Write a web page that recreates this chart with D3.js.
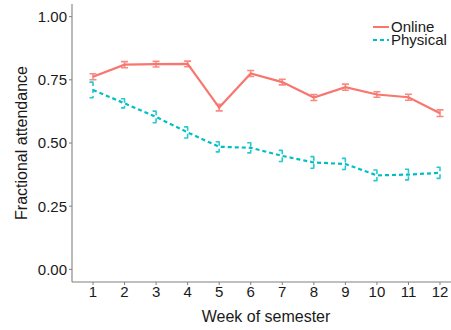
<!DOCTYPE html>
<html><head><meta charset="utf-8">
<script src="https://cdn.jsdelivr.net/npm/d3@7"></script>
<style>body{margin:0;background:#fff}svg{display:block}text{font-family:"Liberation Sans",Arial,sans-serif;fill:#1a1a1a}</style>
</head><body><svg id="c" width="451" height="330"></svg>
<script>
const weeks = [1,2,3,4,5,6,7,8,9,10,11,12];
const onlineMean = [0.762,0.810,0.812,0.813,0.640,0.775,0.741,0.680,0.721,0.692,0.681,0.618];
const onlineErr  = [0.012,0.012,0.011,0.011,0.013,0.012,0.011,0.012,0.012,0.011,0.012,0.013];
const physMean = [0.710,0.657,0.603,0.542,0.485,0.481,0.449,0.423,0.417,0.372,0.375,0.382];
const physErr  = [0.031,0.018,0.023,0.022,0.020,0.020,0.022,0.023,0.022,0.021,0.021,0.022];
const yTicks = [0,0.25,0.5,0.75,1];
const yTickLabels = ["0.00","0.25","0.50","0.75","1.00"];
const seriesNames = ["Online","Physical"];
const colors = ["#F8766D","#00BFC4"];

(function(){
const svg = d3.select("#c");
const pLeft = 72, pRight = 451, pTop = 4, pBottom = 282;
const x = d3.scaleLinear().domain([1,12]).range([93,440]);
const y = d3.scaleLinear().domain([-0.05,1.05]).range([pBottom, pTop]);

svg.append("line").attr("x1",pLeft).attr("x2",pLeft).attr("y1",pTop).attr("y2",pBottom).attr("stroke","#808080").attr("stroke-width",1.1);
svg.append("line").attr("x1",pLeft).attr("x2",pRight).attr("y1",pBottom).attr("y2",pBottom).attr("stroke","#808080").attr("stroke-width",1.1);

yTicks.forEach((t,i)=>{
  svg.append("line").attr("x1",pLeft-3).attr("x2",pLeft).attr("y1",y(t)).attr("y2",y(t)).attr("stroke","#808080");
  svg.append("text").attr("x",pLeft-5).attr("y",y(t)).attr("dy","0.36em").attr("text-anchor","end").attr("font-size",15).text(yTickLabels[i]);
});
weeks.forEach(w=>{
  svg.append("line").attr("x1",x(w)).attr("x2",x(w)).attr("y1",pBottom).attr("y2",pBottom+3).attr("stroke","#808080");
  svg.append("text").attr("x",x(w)).attr("y",297).attr("text-anchor","middle").attr("font-size",15).text(w);
});
svg.append("text").attr("transform","translate(27,143) rotate(-90)").attr("text-anchor","middle").attr("font-size",16).text("Fractional attendance");
svg.append("text").attr("x",266).attr("y",322).attr("text-anchor","middle").attr("font-size",16).text("Week of semester");

const series = [
  {name:seriesNames[0], mean:onlineMean, err:onlineErr, color:colors[0], dash:null},
  {name:seriesNames[1], mean:physMean, err:physErr, color:colors[1], dash:"4,3"}
];
const line = d3.line().x(d=>x(d[0])).y(d=>y(d[1]));
series.forEach(s=>{
  const pts = weeks.map((w,i)=>[w,s.mean[i]]);
  const g = svg.append("g");
  g.append("path").attr("d",line(pts)).attr("fill","none").attr("stroke",s.color).attr("stroke-width",2.2).attr("stroke-dasharray",s.dash);
  weeks.forEach((w,i)=>{
    const lo = y(s.mean[i]-s.err[i]), hi = y(s.mean[i]+s.err[i]), cx = x(w);
    const p = d3.path();
    p.moveTo(cx-3.5,hi); p.lineTo(cx+3.5,hi);
    p.moveTo(cx,hi); p.lineTo(cx,lo);
    p.moveTo(cx-3.5,lo); p.lineTo(cx+3.5,lo);
    g.append("path").attr("d",p.toString()).attr("fill","none").attr("stroke",s.color).attr("stroke-width",1.6).attr("stroke-opacity",0.85).attr("stroke-dasharray",s.dash);
  });
});

series.forEach((s,i)=>{
  const ly = 27 + i*13;
  svg.append("line").attr("x1",373).attr("x2",389).attr("y1",ly).attr("y2",ly).attr("stroke",s.color).attr("stroke-width",2).attr("stroke-dasharray",s.dash);
  svg.append("text").attr("x",391).attr("y",ly).attr("dy","0.36em").attr("font-size",15).text(s.name);
});
})();
</script></body></html>
